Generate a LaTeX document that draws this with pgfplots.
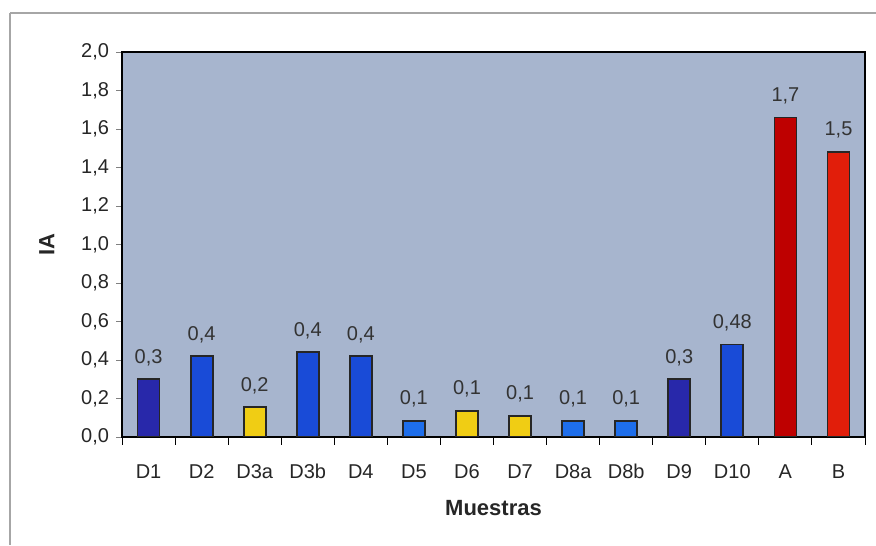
\documentclass[border=0pt]{standalone}
\usepackage{fontspec}
\setmainfont{Liberation Sans}
\usepackage{pgfplots}
\pgfplotsset{compat=1.18}
\definecolor{plotbg}{RGB}{167,181,206}
\definecolor{dblue}{RGB}{40,40,170}
\definecolor{mblue}{RGB}{25,75,215}
\definecolor{lblue}{RGB}{30,110,235}
\definecolor{yel}{RGB}{240,205,20}
\definecolor{redA}{RGB}{190,0,0}
\definecolor{redB}{RGB}{225,30,10}
\begin{document}
\begin{tikzpicture}
\useasboundingbox (0,0) rectangle (438pt,272.5pt);
\draw[gray!70, line width=0.6pt] (5pt,266pt) -- (438pt,266pt);
\draw[gray!70, line width=0.6pt] (5pt,266pt) -- (5pt,0pt);
\begin{axis}[
  at={(61pt,54pt)}, anchor=south west,
  scale only axis, width=371.5pt, height=192.5pt,
  axis background/.style={fill=plotbg},
  axis line style={black, line width=0.8pt},
  ymin=0, ymax=2.0, ytick={0,0.2,...,2.0},
  xmin=-0.5, xmax=13.5,
  xtick={0,...,13},
  xticklabels={D1,D2,D3a,D3b,D4,D5,D6,D7,D8a,D8b,D9,D10,A,B},
  major x tick style={draw=none},
  minor xtick={-0.5,0.5,...,13.5},
  minor x tick style={black, line width=0.5pt},
  minor tick length=4pt,
  major tick length=3pt,
  tick align=outside,
  xtick pos=bottom, ytick pos=left,
  y tick label style={/pgf/number format/.cd, use comma, fixed, fixed zerofill, precision=1},
  /pgf/number format/assume math mode=true,
  tick label style={font=\fontsize{10}{12}\selectfont, text=black!85},
  xticklabel style={yshift=-6pt, text height=1.6ex, text depth=0.2ex},
  xlabel={\textbf{Muestras}}, ylabel={\textbf{IA}},
  label style={font=\fontsize{11}{13}\selectfont, text=black!85},
  xlabel style={yshift=-3pt},
  ylabel style={yshift=6.5pt},
  ybar, bar width=11pt, bar shift=0pt,
  every axis plot/.append style={draw=black!85, line width=0.9pt},
  nodes near coords,
  point meta=explicit symbolic,
  every node near coord/.append style={font=\fontsize{10}{12}\selectfont, text=black!80, yshift=3pt},
]
\addplot[fill=dblue] coordinates {(0,0.30) [0,3] (10,0.30) [0,3]};
\addplot[fill=mblue] coordinates {(1,0.42) [0,4] (3,0.44) [0,4] (4,0.42) [0,4] (11,0.48) [0,48]};
\addplot[fill=lblue] coordinates {(5,0.083) [0,1] (8,0.083) [0,1] (9,0.083) [0,1]};
\addplot[fill=yel] coordinates {(2,0.155) [0,2] (6,0.135) [0,1] (7,0.11) [0,1]};
\addplot[fill=redA] coordinates {(12,1.66) [1,7]};
\addplot[fill=redB] coordinates {(13,1.48) [1,5]};
\end{axis}
\end{tikzpicture}
\end{document}
